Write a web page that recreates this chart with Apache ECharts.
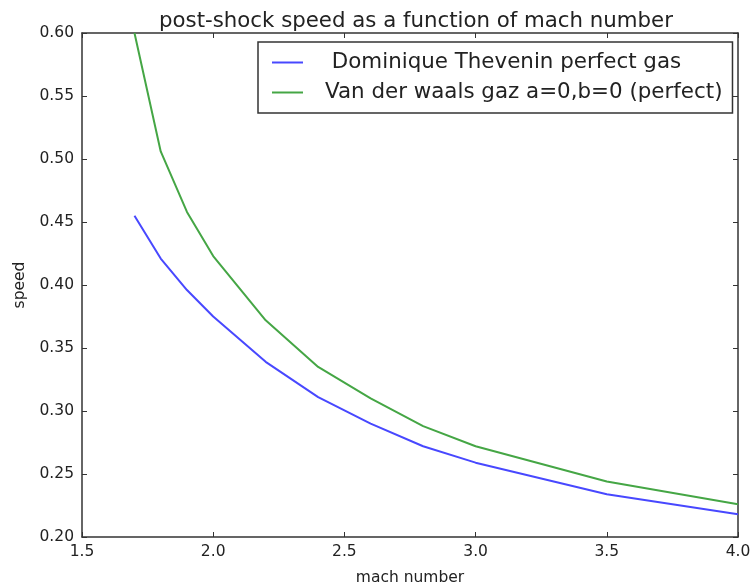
<!DOCTYPE html>
<html>
<head>
<meta charset="utf-8">
<script src="https://cdn.jsdelivr.net/npm/echarts@6/dist/echarts.min.js"></script>
<style>
html,body{margin:0;padding:0;background:#fff;}
#chart{width:754px;height:587px;}
</style>
</head>
<body>
<div id="chart"></div>
<script>
var machNumbers = [1.7, 1.8, 1.9, 2.0, 2.2, 2.4, 2.6, 2.8, 3.0, 3.5, 4.0];
var theveninSpeed = [0.455, 0.421, 0.396, 0.375, 0.339, 0.311, 0.290, 0.272, 0.259, 0.234, 0.218];
var vdwSpeed = [0.600, 0.506, 0.458, 0.423, 0.372, 0.335, 0.310, 0.288, 0.272, 0.244, 0.226];
var xTicks = [1.5, 2.0, 2.5, 3.0, 3.5, 4.0];
var yTicks = [0.20, 0.25, 0.30, 0.35, 0.40, 0.45, 0.50, 0.55, 0.60];
var seriesNames = [' Dominique Thevenin perfect gas', 'Van der waals gaz a=0,b=0 (perfect)'];

function pairs(xs, ys){ return xs.map(function(x,i){ return [x, ys[i]]; }); }

var font = 'DejaVu Sans';
var axisColor = '#333';
function axisCommon(showLabel, isX){
  return {
    type: 'value',
    min: isX ? xTicks[0] : yTicks[0],
    max: isX ? xTicks[xTicks.length-1] : yTicks[yTicks.length-1],
    interval: isX ? 0.5 : 0.05,
    axisLine: {show: true, onZero: false, lineStyle: {color: axisColor, width: 1.5}},
    axisTick: {show: true, inside: true, length: 5, lineStyle: {color: axisColor, width: 1}},
    splitLine: {show: false},
    axisLabel: {
      show: showLabel,
      fontFamily: font, fontSize: 15.5, color: '#222',
      margin: isX ? 7 : 8,
      formatter: function(v){ return isX ? v.toFixed(1) : v.toFixed(2); }
    }
  };
}

var chart = echarts.init(document.getElementById('chart'), null, {renderer: 'canvas'});
var xBottom = axisCommon(true, true);
xBottom.position = 'bottom';
xBottom.name = 'mach number';
xBottom.nameLocation = 'middle';
xBottom.nameGap = 33;
xBottom.nameTextStyle = {fontFamily: font, fontSize: 15.5, color: '#222'};
var xTop = axisCommon(false, true);
xTop.position = 'top';
var yLeft = axisCommon(true, false);
yLeft.position = 'left';
yLeft.name = 'speed';
yLeft.nameLocation = 'middle';
yLeft.nameGap = 54;
yLeft.nameTextStyle = {fontFamily: font, fontSize: 15.5, color: '#222'};
var yRight = axisCommon(false, false);
yRight.position = 'right';

chart.setOption({
  animation: false,
  backgroundColor: '#fff',
  title: {
    text: 'post-shock speed as a function of mach number',
    left: 411, top: 6, textAlign: 'center',
    textStyle: {fontFamily: font, fontSize: 21.3, fontWeight: 'normal', color: '#222'}
  },
  grid: {left: 82, right: 16, top: 33, bottom: 50, containLabel: false, outerBoundsMode: 'none'},
  xAxis: [xBottom, xTop],
  yAxis: [yLeft, yRight],
  legend: {
    orient: 'vertical',
    left: 258, top: 42,
    padding: [10, 10, 10, 14],
    itemWidth: 31, itemHeight: 14, itemGap: 9,
    borderColor: '#333', borderWidth: 1.5,
    backgroundColor: '#fff',
    icon: 'path://M0,6 L31,6 L31,8 L0,8 Z',
    textStyle: {fontFamily: font, fontSize: 21.4, color: '#222', padding: [0, 0, 0, 17]},
    data: seriesNames
  },
  series: [
    {
      name: seriesNames[0], type: 'line', xAxisIndex: 0, yAxisIndex: 0,
      data: pairs(machNumbers, theveninSpeed),
      showSymbol: false, symbol: 'none',
      lineStyle: {color: '#4848ff', width: 2},
      itemStyle: {color: '#4848ff'}
    },
    {
      name: seriesNames[1], type: 'line', xAxisIndex: 0, yAxisIndex: 0,
      data: pairs(machNumbers, vdwSpeed),
      showSymbol: false, symbol: 'none',
      lineStyle: {color: '#45a645', width: 2},
      itemStyle: {color: '#45a645'}
    }
  ]
});
</script>
</body>
</html>
